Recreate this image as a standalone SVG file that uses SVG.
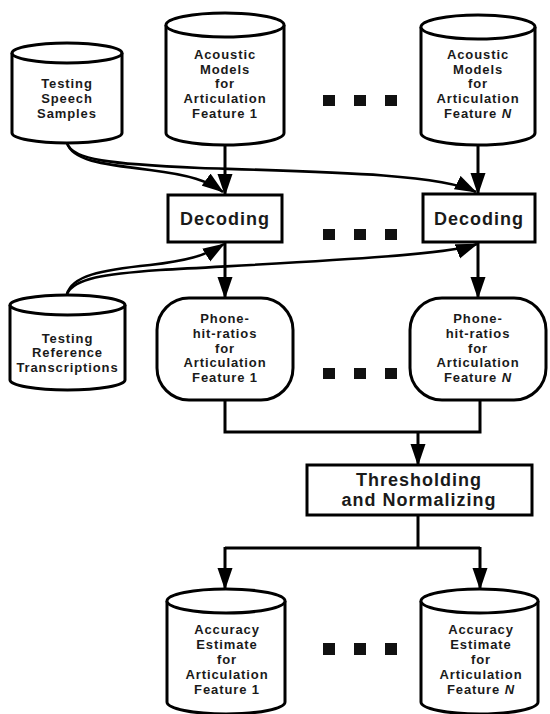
<svg xmlns="http://www.w3.org/2000/svg" width="550" height="714" viewBox="0 0 550 714">
<style>
.shape{fill:#fff;stroke:#000;stroke-width:3}
.t{font-family:"Liberation Sans",Arial,sans-serif;font-weight:bold;font-size:13px;letter-spacing:0.9px;fill:#1a1a1a;text-anchor:middle}
.big{font-size:18px;letter-spacing:1px}
.c{fill:none;stroke:#000;stroke-width:3}
.cv{fill:none;stroke:#000;stroke-width:2.6}
.dot{fill:#111}
</style>
<defs>
<marker id="ah" markerUnits="userSpaceOnUse" markerWidth="22" markerHeight="16" viewBox="0 0 22 16" refX="21" refY="8" orient="auto">
<path d="M0,0.5 L22,8 L0,15.5 z" fill="#000"/>
</marker>
</defs>

<g id="connectors">
<path class="cv" d="M67,143 C72,160 100,164 150,170 C190,175 208,181 223,192" marker-end="url(#ah)"/>
<path class="cv" d="M67,143 C72,160 110,164 200,168 C330,172 440,174 476,192" marker-end="url(#ah)"/>
<path class="cv" d="M67,294 C72,276 100,270 150,265 C185,261 205,256 224,244" marker-end="url(#ah)"/>
<path class="cv" d="M67,294 C74,278 105,274 160,270 C300,262 445,256 477,244" marker-end="url(#ah)"/>
<path class="c" d="M225,145 L225,195" marker-end="url(#ah)"/>
<path class="c" d="M478,145 L478,194" marker-end="url(#ah)"/>
<path class="c" d="M225,242 L225,298" marker-end="url(#ah)"/>
<path class="c" d="M478,242 L478,298" marker-end="url(#ah)"/>
<path class="c" d="M225,400 L225,432 L480,432 L480,400"/>
<path class="c" d="M418,432 L418,465" marker-end="url(#ah)"/>
<path class="c" d="M418,515 L418,548"/>
<path class="c" d="M225,548 L480,548"/>
<path class="c" d="M225,547 L225,589" marker-end="url(#ah)"/>
<path class="c" d="M480,547 L480,589" marker-end="url(#ah)"/>
</g>

<g id="speech">
<path class="shape" d="M12,53 L12,133 A55,10 0 0 0 122,133 L122,53"/>
<ellipse class="shape" cx="67" cy="53" rx="55" ry="10"/>
<text class="t" x="67" y="88">Testing</text>
<text class="t" x="67" y="103">Speech</text>
<text class="t" x="67" y="118">Samples</text>
</g>

<g id="acoustic1">
<path class="shape" d="M166,25 L166,133 A59,12 0 0 0 284,133 L284,25"/>
<ellipse class="shape" cx="225" cy="25" rx="59" ry="12"/>
<text class="t" x="225" y="59">Acoustic</text>
<text class="t" x="225" y="74">Models</text>
<text class="t" x="225" y="88">for</text>
<text class="t" x="225" y="103">Articulation</text>
<text class="t" x="225" y="118">Feature 1</text>
</g>

<g id="acousticN">
<path class="shape" d="M421,27 L421,133 A57,12 0 0 0 535,133 L535,27"/>
<ellipse class="shape" cx="478" cy="27" rx="57" ry="12"/>
<text class="t" x="478" y="59">Acoustic</text>
<text class="t" x="478" y="74">Models</text>
<text class="t" x="478" y="88">for</text>
<text class="t" x="478" y="103">Articulation</text>
<text class="t" x="478" y="118">Feature <tspan font-style="italic">N</tspan></text>
</g>

<g id="dots">
<rect class="dot" x="323" y="95" width="12" height="11"/>
<rect class="dot" x="354" y="95" width="12" height="11"/>
<rect class="dot" x="385" y="95" width="12" height="11"/>
<rect class="dot" x="323" y="229" width="12" height="11"/>
<rect class="dot" x="354" y="229" width="12" height="11"/>
<rect class="dot" x="385" y="229" width="12" height="11"/>
<rect class="dot" x="323" y="368" width="12" height="11"/>
<rect class="dot" x="354" y="368" width="12" height="11"/>
<rect class="dot" x="385" y="368" width="12" height="11"/>
<rect class="dot" x="323" y="643" width="12" height="12"/>
<rect class="dot" x="354" y="643" width="12" height="12"/>
<rect class="dot" x="385" y="643" width="12" height="12"/>
</g>

<g id="decoding1">
<rect class="shape" x="168" y="195" width="114" height="47"/>
<text class="t big" x="225" y="225">Decoding</text>
</g>

<g id="decodingN">
<rect class="shape" x="423" y="194" width="112" height="48"/>
<text class="t big" x="479" y="225">Decoding</text>
</g>

<g id="reference">
<path class="shape" d="M10,305 L10,380 A57.5,10 0 0 0 125,380 L125,305"/>
<ellipse class="shape" cx="67.5" cy="305" rx="57.5" ry="10"/>
<text class="t" x="67.5" y="343">Testing</text>
<text class="t" x="67.5" y="357">Reference</text>
<text class="t" x="67.5" y="372">Transcriptions</text>
</g>

<g id="phone1">
<rect class="shape" x="157" y="298" width="136" height="102" rx="32" ry="32"/>
<text class="t" x="225" y="323">Phone-</text>
<text class="t" x="225" y="338">hit-ratios</text>
<text class="t" x="225" y="353">for</text>
<text class="t" x="225" y="367">Articulation</text>
<text class="t" x="225" y="382">Feature 1</text>
</g>

<g id="phoneN">
<rect class="shape" x="410" y="298" width="136" height="102" rx="32" ry="32"/>
<text class="t" x="478" y="323">Phone-</text>
<text class="t" x="478" y="338">hit-ratios</text>
<text class="t" x="478" y="353">for</text>
<text class="t" x="478" y="367">Articulation</text>
<text class="t" x="478" y="382">Feature <tspan font-style="italic">N</tspan></text>
</g>

<g id="thresholding">
<rect class="shape" x="307" y="465" width="225" height="50"/>
<text class="t big" x="419" y="486">Thresholding</text>
<text class="t big" x="419" y="506">and Normalizing</text>
</g>

<g id="accuracy1">
<path class="shape" d="M167,601 L167,702 A59,12 0 0 0 285,702 L285,601"/>
<ellipse class="shape" cx="226" cy="601" rx="59" ry="12"/>
<text class="t" x="227" y="634">Accuracy</text>
<text class="t" x="227" y="649">Estimate</text>
<text class="t" x="227" y="664">for</text>
<text class="t" x="227" y="679">Articulation</text>
<text class="t" x="227" y="694">Feature 1</text>
</g>

<g id="accuracyN">
<path class="shape" d="M421,601 L421,702 A58.5,12 0 0 0 538,702 L538,601"/>
<ellipse class="shape" cx="479.5" cy="601" rx="58.5" ry="12"/>
<text class="t" x="481" y="634">Accuracy</text>
<text class="t" x="481" y="649">Estimate</text>
<text class="t" x="481" y="664">for</text>
<text class="t" x="481" y="679">Articulation</text>
<text class="t" x="481" y="694">Feature <tspan font-style="italic">N</tspan></text>
</g>
</svg>
